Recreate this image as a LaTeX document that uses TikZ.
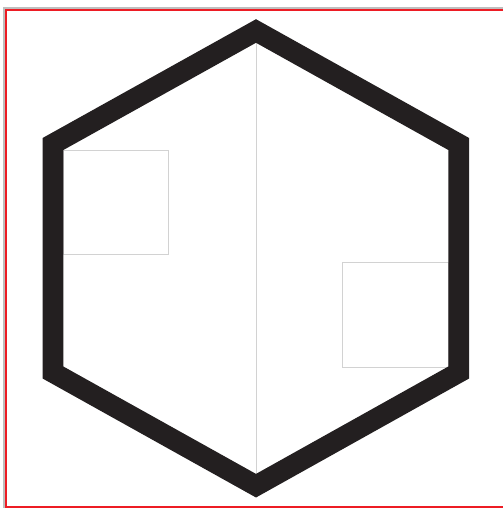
\documentclass[tikz,border=0pt]{standalone}
\definecolor{hexblack}{RGB}{35,31,32}
\definecolor{thingray}{RGB}{210,210,210}
\definecolor{frameRed}{RGB}{237,28,36}
\definecolor{frameGray}{RGB}{190,190,190}
\tikzset{
  hexline/.style={draw=hexblack, line width=20.6pt, line join=miter},
  thinbox/.style={draw=thingray, line width=1pt},
  redframe/.style={draw=frameRed, line width=1.8pt},
  grayframe/.style={draw=frameGray, line width=1.2pt}
}
\begin{document}
\begin{tikzpicture}[x=1pt,y=-1pt]
\useasboundingbox (0,0) rectangle (503,508);
\fill[white] (0,0) rectangle (503,508);
% frame
\draw[grayframe] (4,508) -- (4,8) -- (503,8);
\draw[redframe] (503,10) -- (6.3,10) -- (6.3,506.8) -- (503,506.8);
% thin gray elements
\draw[thinbox] (256,43) -- (256,474);
\draw[thinbox] (63,150) rectangle (168.3,254.3);
\draw[thinbox] (342.7,262.7) rectangle (448,367.3);
% hexagon
\draw[hexline] (256,31) -- (458.7,144) -- (458.7,372.5) -- (256,485.7) -- (53,372.5) -- (53,144) -- cycle;
\end{tikzpicture}
\end{document}
